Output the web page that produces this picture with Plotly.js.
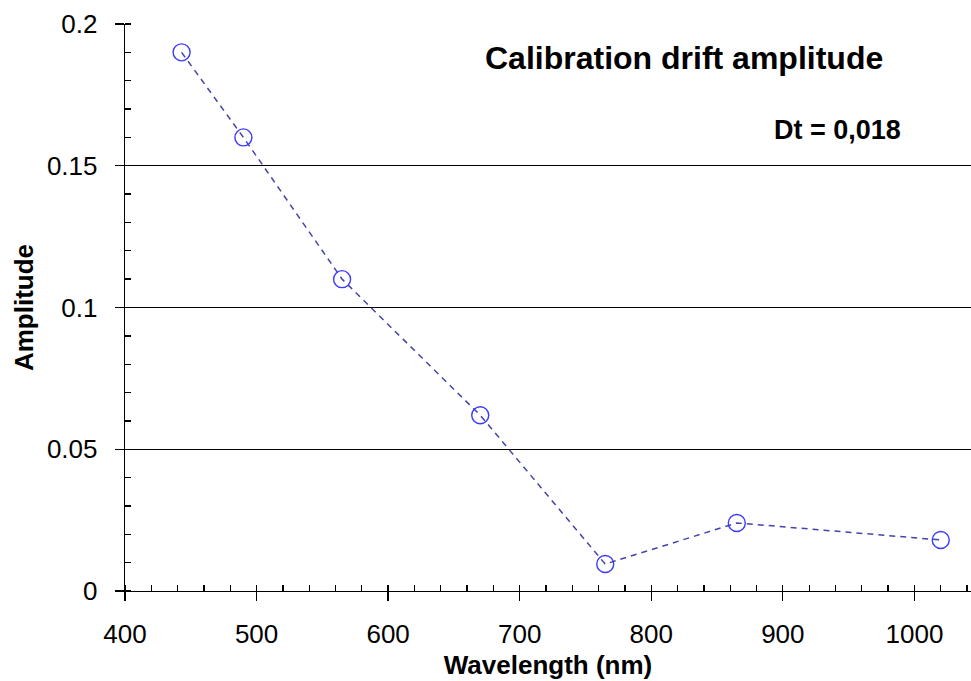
<!DOCTYPE html>
<html>
<head>
<meta charset="utf-8">
<script src="https://cdn.plot.ly/plotly-3.0.1.min.js"></script>
<style>
  html, body { margin: 0; padding: 0; background: #fff; }
  #chart { width: 971px; height: 681px; }
</style>
</head>
<body>
<div id="chart"></div>
<script>
// Wavelength bands (nm) and the calibration drift amplitude at each
const wavelengths = [443, 490, 565, 670, 765, 865, 1020];
const amplitudes  = [0.19, 0.16, 0.11, 0.062, 0.0095, 0.024, 0.018];

const chartTitle = 'Calibration drift amplitude';
const dtLabel = 'Dt = 0,018';
const xTitle = 'Wavelength (nm)';
const yTitle = 'Amplitude';

const FONT = 'Liberation Sans, Arial, sans-serif';
const xRange = [400, 1043];
const yRange = [0, 0.2];

const trace = {
  x: wavelengths,
  y: amplitudes,
  type: 'scatter',
  mode: 'lines+markers',
  line: { color: '#4444aa', width: 1.5, dash: '6px,5px' },
  marker: {
    symbol: 'circle-open',
    size: 17,
    color: '#3b3bff',
    line: { color: '#3b3bff', width: 1.4 }
  },
  showlegend: false,
  hoverinfo: 'x+y'
};

const layout = {
  width: 971,
  height: 681,
  margin: { l: 125, r: 0, t: 24, b: 90 },
  paper_bgcolor: '#fff',
  plot_bgcolor: '#fff',
  font: { family: FONT, color: '#000', size: 26 },
  xaxis: {
    range: xRange,
    dtick: 100,
    tick0: 400,
    ticks: 'outside',
    ticklen: 9,
    tickwidth: 1.3,
    tickcolor: '#000',
    showgrid: false,
    zeroline: false,
    showline: true,
    linecolor: '#000',
    linewidth: 1.3,
    tickfont: { family: FONT, size: 26, color: '#000' },
    ticklabelstandoff: 10,
    minor: { ticks: 'inside', ticklen: 6, dtick: 20, tickcolor: '#000', tickwidth: 1.3, showgrid: false },
    title: { text: '<b>' + xTitle + '</b>', font: { family: FONT, size: 26, color: '#000' }, standoff: 8 }
  },
  yaxis: {
    range: yRange,
    dtick: 0.05,
    tick0: 0,
    ticks: 'outside',
    ticklen: 9,
    tickwidth: 1.3,
    tickcolor: '#000',
    showgrid: true,
    gridcolor: '#000',
    gridwidth: 1,
    zeroline: false,
    showline: true,
    linecolor: '#000',
    linewidth: 1.3,
    tickfont: { family: FONT, size: 26, color: '#000' },
    ticklabelstandoff: 12,
    minor: { ticks: 'inside', ticklen: 6, dtick: 0.01, tickcolor: '#000', tickwidth: 1.3, showgrid: false },
    title: { text: '<b>' + yTitle + '</b>', font: { family: FONT, size: 26, color: '#000' }, standoff: 5 }
  },
  // companion axes that draw the inner half of the major ticks
  xaxis2: {
    overlaying: 'x', anchor: 'y', range: xRange, dtick: 100, tick0: 400,
    ticks: 'inside', ticklen: 6, tickwidth: 1.3, tickcolor: '#000',
    showticklabels: false, showgrid: false, zeroline: false, showline: false
  },
  yaxis2: {
    overlaying: 'y', anchor: 'x', range: yRange, dtick: 0.05, tick0: 0,
    ticks: 'inside', ticklen: 6, tickwidth: 1.3, tickcolor: '#000',
    showticklabels: false, showgrid: false, zeroline: false, showline: false
  },
  annotations: [
    {
      text: '<b>' + chartTitle + '</b>',
      xref: 'paper', yref: 'paper', x: 0.661, y: 0.94,
      xanchor: 'center', yanchor: 'middle', showarrow: false,
      font: { family: FONT, size: 32, color: '#000' }
    },
    {
      text: '<b>' + dtLabel + '</b>',
      xref: 'paper', yref: 'paper', x: 0.92, y: 0.813,
      xanchor: 'right', yanchor: 'middle', showarrow: false,
      font: { family: FONT, size: 27, color: '#000' }
    }
  ]
};

const traces = [
  trace,
  { x: [], y: [], xaxis: 'x2', yaxis: 'y2', type: 'scatter', showlegend: false, hoverinfo: 'skip' }
];

Plotly.newPlot('chart', traces, layout, { displayModeBar: false, staticPlot: true });
</script>
</body>
</html>
